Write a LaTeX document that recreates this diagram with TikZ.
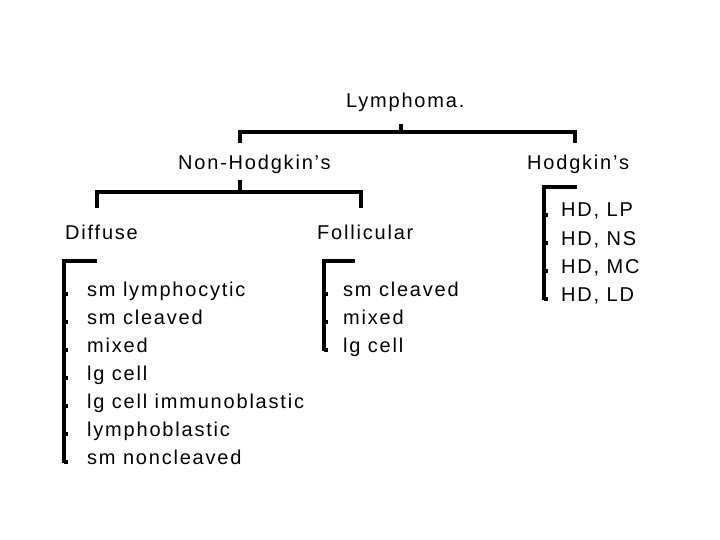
\documentclass[tikz,border=0pt]{standalone}
\usepackage{fontspec}
\setmainfont{Liberation Sans}[LetterSpace=9]
\begin{document}
\begin{tikzpicture}[x=1pt,y=-1pt,
  lbl/.style={anchor=base west, inner sep=0pt, font=\fontsize{20}{24}\selectfont},
  tree/.style={line width=4pt}]
\useasboundingbox (0,0) rectangle (720,540);

\node[lbl] (lymph) at (346,108) {Lymphoma.};
\node[lbl] (nonhod) at (178,170) {Non-Hodgkin's};
\node[lbl] (hod) at (527,170) {Hodgkin's};
\node[lbl] (diff) at (65,240) {Diffuse};
\node[lbl] (foll) at (317,240) {Follicular};

\node[lbl] (d1) at (87,296) {sm lymphocytic};
\node[lbl] (d2) at (87,324) {sm cleaved};
\node[lbl] (d3) at (87,352) {mixed};
\node[lbl] (d4) at (87,380) {lg cell};
\node[lbl] (d5) at (87,408) {lg cell immunoblastic};
\node[lbl] (d6) at (87,436) {lymphoblastic};
\node[lbl] (d7) at (87,464) {sm noncleaved};

\node[lbl] (f1) at (343,296) {sm cleaved};
\node[lbl] (f2) at (343,324) {mixed};
\node[lbl] (f3) at (343,352) {lg cell};

\node[lbl] (h1) at (561,217) {HD, LP};
\node[lbl] (h2) at (561,245) {HD, NS};
\node[lbl] (h3) at (561,273) {HD, MC};
\node[lbl] (h4) at (561,301) {HD, LD};

\coordinate (lyout) at (401,124);
\coordinate (lyj) at (401,132);
\coordinate (nhin) at (239.5,143);
\coordinate (hdin) at (575,143);
\coordinate (nhout) at (239.5,180);
\coordinate (nhj) at (239.5,192);
\coordinate (dfin) at (97,208);
\coordinate (flin) at (361,208);
\coordinate (dtop) at (97,261);
\coordinate (ftop) at (355,261);
\coordinate (htop) at (577,187);

\draw[tree] (lyout) -- (lyj);
\draw[tree] (nhin) |- (lyj) -| (hdin);
\draw[tree] (nhout) -- (nhj);
\draw[tree] (dfin) |- (nhj) -| (flin);

\draw[tree] (dtop) -| ([xshift=-23pt,yshift=1pt]d7.base west);
\draw[tree] (ftop) -| ([xshift=-19pt,yshift=1pt]f3.base west);
\draw[tree] (htop) -| ([xshift=-17pt,yshift=1pt]h4.base west);

\foreach \n in {d1,d2,d3,d4,d5,d6,d7}
  \draw[tree] ([xshift=-23pt,yshift=2pt]\n.base west) -- ++(4,0);
\foreach \n in {f1,f2,f3}
  \draw[tree] ([xshift=-19pt,yshift=2pt]\n.base west) -- ++(4,0);
\foreach \n in {h1,h2,h3,h4}
  \draw[tree] ([xshift=-17pt,yshift=2pt]\n.base west) -- ++(4,0);
\end{tikzpicture}
\end{document}
